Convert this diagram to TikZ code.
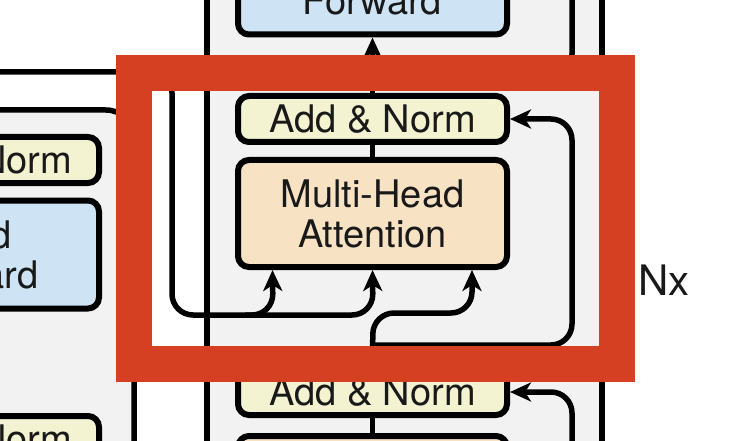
\documentclass[tikz,border=0pt]{standalone}
\usepackage{fontspec}
\setmainfont{TeX Gyre Heros}
\usetikzlibrary{arrows.meta,calc}
\definecolor{bggray}{RGB}{242,242,242}
\definecolor{normyel}{RGB}{243,243,210}
\definecolor{ffblue}{RGB}{206,228,244}
\definecolor{attorange}{RGB}{248,226,196}
\definecolor{hired}{RGB}{214,64,34}
\definecolor{txt}{RGB}{25,25,25}
\tikzset{
  blk/.style={draw=black, line width=6pt, rounded corners=11pt, minimum width=269pt,
    align=center, text=txt, font=\fontsize{38}{40}\selectfont, inner sep=0pt},
  encblk/.style={minimum width=260pt},
  normbox/.style={blk, fill=normyel, minimum height=46pt},
  ffbox/.style={blk, fill=ffblue, minimum height=108pt},
  attbox/.style={blk, fill=attorange, minimum height=107pt},
  conn/.style={draw=black, line width=5.5pt, rounded corners=21pt},
  tip/.style={-{Stealth[length=21pt,width=19pt,inset=6pt]}},
  frameline/.style={draw=black, line width=5.5pt}
}
\begin{document}
\begin{tikzpicture}[x=1pt,y=-1pt]
\useasboundingbox (0,0) rectangle (739,441);
\clip (0,0) rectangle (739,441);
% backgrounds
\fill[bggray] (-40,110) -- (134,110) -- (134,480) -- (-40,480) -- cycle;
\fill[bggray] (207,-20) rectangle (602,480);
\draw[frameline, rounded corners=28pt] (-40,110) -- (134,110) -- (134,480);
\draw[frameline] (207,-20) -- (207,480);
\draw[frameline] (602,-20) -- (602,480);
% encoder boxes
\node[normbox, encblk] (ean) at (-31,160) {Add \& Norm};
\node[ffbox, encblk] (effn) at (-31,254.5) {Feed\\Forward};
\node[normbox, encblk] (ean2) at (-31,439) {Add \& Norm};
% decoder boxes
\node[ffbox] (dffn) at (372.5,-19.5) {Feed\\Forward};
\node[normbox] (dan) at (372.5,119) {Add \& Norm};
\node[attbox] (dmha) at (372.5,213.5) {Multi-Head\\Attention};
\node[normbox] (dan2) at (372.5,392) {Add \& Norm};
\node[attbox, minimum height=170pt] (dmmha) at (372.5,521) {Masked\\Multi-Head\\Attention};
% connectors
\draw[conn] (dmha.north) -- (dan.south);
\draw[conn,tip] (dan.north) -- (dffn.south);
\draw[conn] (dmmha.north) -- (dan2.south);
\draw[conn] (373,75) -- (572,75) -- (572,-30);
\coordinate (encout) at (-40,72);
\draw[conn,tip] (encout) -- (172,72) -- (172,315) -- (373,315) -- (dmha.south);
\draw[conn,tip] (245,315) -- (273,315) -- ([xshift=-100pt]dmha.south);
\draw[conn,tip] (dan2.north) -- (373,313) -- (472,313) -- ([xshift=99.5pt]dmha.south);
\draw[conn,tip] (373,345) -- (572,345) -- (572,119) -- (dan.east);
\draw[conn,tip] (572,480) -- (572,392) -- (dan2.east);
% highlight
\draw[hired, line width=36pt] (134,73) rectangle (617,364);
\node[anchor=base west, inner sep=0pt, text=txt, font=\fontsize{42}{44}\selectfont] (nx) at (638,295) {Nx};
\end{tikzpicture}
\end{document}
